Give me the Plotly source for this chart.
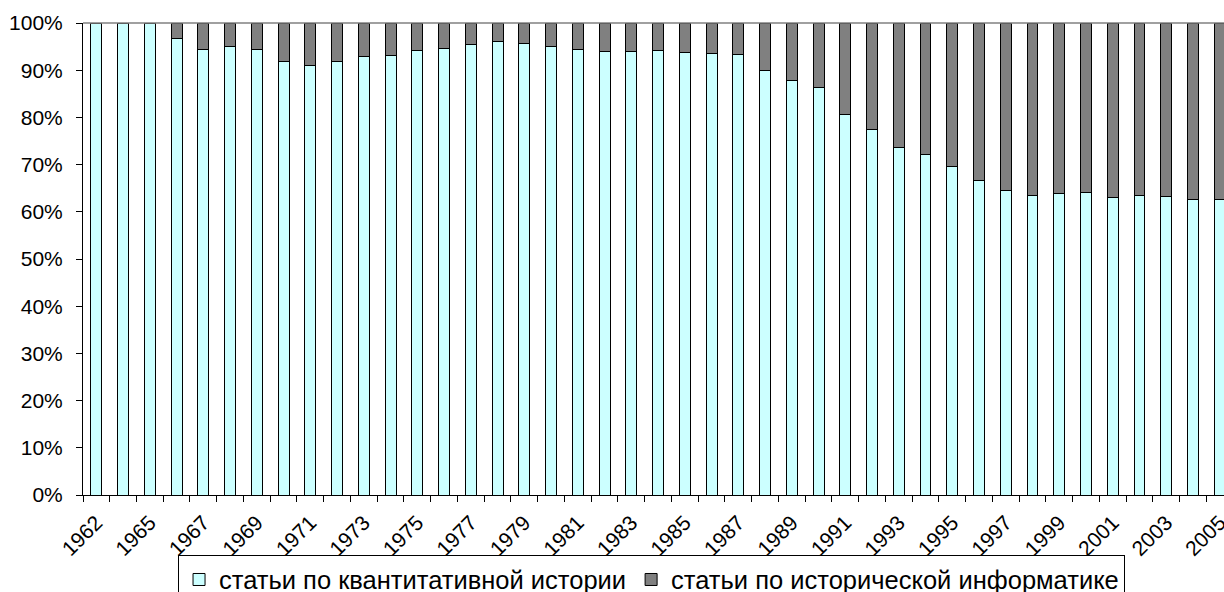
import plotly.graph_objects as go

years = ["1962", "1964", "1965"] + [str(y) for y in range(1966, 2006)]
quant_pct = [100, 100, 100, 96.7, 94.3, 95.0, 94.3, 91.9, 91.1, 91.8,
             93.0, 93.2, 94.1, 94.5, 95.4, 96.0, 95.7, 95.0, 94.3, 94.0,
             94.0, 94.2, 93.8, 93.6, 93.4, 89.9, 87.9, 86.4, 80.6, 77.5,
             73.6, 72.2, 69.6, 66.7, 64.5, 63.5, 63.9, 64.0, 63.1, 63.5,
             63.3, 62.7, 62.6]
info_pct = [0, 0, 0, 3.3, 5.7, 5.0, 5.7, 8.1, 8.9, 8.2,
            7.0, 6.8, 5.9, 5.5, 4.6, 4.0, 4.3, 5.0, 5.7, 6.0,
            6.0, 5.8, 6.2, 6.4, 6.6, 10.1, 12.1, 13.6, 19.4, 22.5,
            26.4, 27.8, 30.4, 33.3, 35.5, 36.5, 36.1, 36.0, 36.9, 36.5,
            36.7, 37.3, 37.4]
labels = [y if i % 2 == 0 else "" for i, y in enumerate(years)]
series_names = ["статьи по квантитативной истории", "статьи по исторической информатике"]

FONT = "Liberation Sans, Arial, sans-serif"

fig = go.Figure()
fig.add_trace(go.Bar(x=years, y=quant_pct, name=series_names[0],
                     marker=dict(color="#CCFFFF", line=dict(color="black", width=1)),
                     width=0.41))
fig.add_trace(go.Bar(x=years, y=info_pct, name=series_names[1],
                     marker=dict(color="#808080", line=dict(color="black", width=1)),
                     width=0.41))

fig.update_layout(
    width=1224, height=592,
    margin=dict(l=83, r=0, t=23, b=97, autoexpand=False),
    barmode="stack",
    plot_bgcolor="white", paper_bgcolor="white",
    font=dict(family=FONT, size=21, color="black"),
    showlegend=True,
    legend=dict(orientation="h", x=0.0833, xanchor="left", y=-0.128, yanchor="top",
                bordercolor="black", borderwidth=1, font=dict(size=25.5),
                itemwidth=30, traceorder="normal"),
    shapes=[dict(type="line", xref="paper", yref="paper", x0=0, x1=1, y0=1, y1=1,
                 line=dict(color="#808080", width=1.5))],
)
fig.update_xaxes(type="category", categoryorder="array", categoryarray=years,
                 range=[-0.5, 42.16],
                 tickmode="array", tickvals=years, ticktext=labels,
                 tickson="boundaries", ticks="outside", ticklen=6,
                 tickcolor="black", tickangle=-45, ticklabelstandoff=6,
                 showline=True, linecolor="black", linewidth=1,
                 showgrid=False, tickfont=dict(size=21))
fig.update_yaxes(range=[0, 100], tickmode="linear", tick0=0, dtick=10,
                 ticksuffix="%", ticks="outside", ticklen=6, tickcolor="black",
                 ticklabelstandoff=9,
                 showline=True, linecolor="black", linewidth=1,
                 showgrid=False, zeroline=False, tickfont=dict(size=21))

fig.write_html("out.html")
